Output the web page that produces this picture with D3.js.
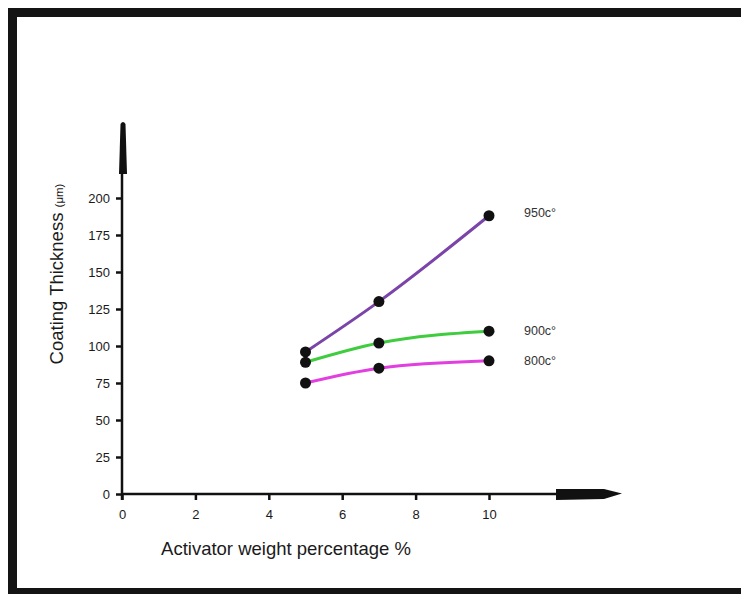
<!DOCTYPE html>
<html lang="en">
<head>
<meta charset="UTF-8">
<title>Coating Thickness</title>
<script src="https://cdnjs.cloudflare.com/ajax/libs/d3/7.8.5/d3.min.js"></script>
<style>
  body { margin: 0; background: #fff; }
  text { font-family: "Liberation Sans", Arial, sans-serif; }
</style>
</head>
<body>
<script>
// data
var xValues = [5, 7, 10];
var series950 = [96, 130, 188];
var series900 = [89, 102, 110];
var series800 = [75, 85, 90];
var seriesNames = ["950c°", "900c°", "800c°"];
var xTicks = [0, 2, 4, 6, 8, 10];
var yTicks = [0, 25, 50, 75, 100, 125, 150, 175, 200];

var W = 741, H = 594;
var svg = d3.select("body").append("svg")
    .attr("width", W).attr("height", H);

// frame (left, top, bottom border; right edge off picture)
svg.append("rect").attr("x", 0).attr("y", 0).attr("width", W).attr("height", H).attr("fill", "#fff");
svg.append("rect").attr("x", 12.5).attr("y", 12.5).attr("width", W + 20).attr("height", 580)
    .attr("fill", "none").attr("stroke", "#141414").attr("stroke-width", 9);

var x = d3.scaleLinear().domain([0, 10]).range([122, 489]);
var y = d3.scaleLinear().domain([0, 200]).range([494, 198]);

// axes lines
svg.append("line").attr("x1", x(0)).attr("x2", 560).attr("y1", y(0)).attr("y2", y(0))
    .attr("stroke", "#111").attr("stroke-width", 2.5);
svg.append("line").attr("x1", x(0)).attr("x2", x(0)).attr("y1", y(0) + 6).attr("y2", 170)
    .attr("stroke", "#111").attr("stroke-width", 2.5);

// thick arrow shapes
svg.append("path")
    .attr("d", "M556,489 L604,489 L622,493.5 L604,499 L556,500 Z")
    .attr("fill", "#111");
svg.append("path")
    .attr("d", "M120.5,124 Q123,120 125.5,124 L127,174 L119,174 Z")
    .attr("fill", "#111");

// ticks
var yAxis = d3.axisLeft(y).tickValues(yTicks).tickSize(6).tickPadding(6);
var gy = svg.append("g").attr("transform", "translate(" + x(0) + ",0)").call(yAxis);
gy.select(".domain").remove();
gy.selectAll("line").attr("stroke", "#111").attr("stroke-width", 2.5);
gy.selectAll("text").attr("font-size", 13).attr("fill", "#1a1a1a");

var xAxis = d3.axisBottom(x).tickValues(xTicks).tickSize(6).tickPadding(10);
var gx = svg.append("g").attr("transform", "translate(0," + y(0) + ")").call(xAxis);
gx.select(".domain").remove();
gx.selectAll("line").attr("stroke", "#111").attr("stroke-width", 2.5);
gx.selectAll("text").attr("font-size", 13).attr("fill", "#1a1a1a");

// axis titles
svg.append("text")
    .attr("x", 286).attr("y", 555)
    .attr("text-anchor", "middle")
    .attr("font-size", 18.5).attr("fill", "#1a1a1a")
    .text("Activator weight percentage %");

var yt = svg.append("text")
    .attr("transform", "translate(63,274) rotate(-90)")
    .attr("text-anchor", "middle")
    .attr("font-size", 18.5).attr("fill", "#1a1a1a");
yt.append("tspan").text("Coating Thickness ");
yt.append("tspan").attr("font-size", 11.5).text("(μm)");

// series
var allSeries = [
    { name: seriesNames[0], values: series950, color: "#7a44a8", dy: -3 },
    { name: seriesNames[1], values: series900, color: "#3fcc3f", dy: 0 },
    { name: seriesNames[2], values: series800, color: "#e23fe0", dy: 0 }
];

var line = d3.line()
    .x(function(d, i) { return x(xValues[i]); })
    .y(function(d) { return y(d); })
    .curve(d3.curveMonotoneX);

allSeries.forEach(function(s) {
    svg.append("path")
        .attr("d", line(s.values))
        .attr("fill", "none")
        .attr("stroke", s.color)
        .attr("stroke-width", 3);
    svg.selectAll(null)
        .data(s.values)
        .enter()
        .append("circle")
        .attr("cx", function(d, i) { return x(xValues[i]); })
        .attr("cy", function(d) { return y(d); })
        .attr("r", 5.5)
        .attr("fill", "#111");
    svg.append("text")
        .attr("x", x(10) + 35)
        .attr("y", y(s.values[s.values.length - 1]) + 4 + s.dy)
        .attr("font-size", 12.5).attr("fill", "#333")
        .text(s.name);
});
</script>
</body>
</html>
